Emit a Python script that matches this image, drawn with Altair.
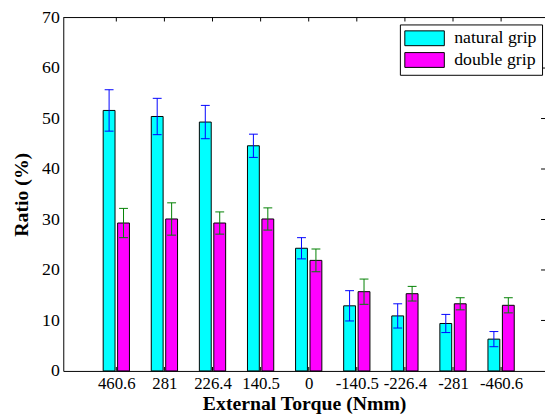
import altair as alt
import pandas as pd

torques = ["460.6", "281", "226.4", "140.5", "0", "-140.5", "-226.4", "-281", "-460.6"]
natural = [51.6, 50.4, 49.3, 44.6, 24.3, 12.9, 10.9, 9.4, 6.3]
natural_err = [4.1, 3.6, 3.3, 2.3, 2.1, 3.0, 2.4, 1.8, 1.5]
double = [29.3, 30.1, 29.3, 30.1, 21.9, 15.7, 15.3, 13.3, 13.0]
double_err = [2.9, 3.2, 2.2, 2.2, 2.25, 2.5, 1.45, 1.2, 1.5]
series = ["natural grip", "double grip"]
bar_colors = ["#00ffff", "#ff00ff"]
err_colors = ["#0000ff", "#008000"]
y_ticks = [0, 10, 20, 30, 40, 50, 60, 70]

rows = []
for i, t in enumerate(torques):
    for s, vals, errs, ec, off in [
        (series[0], natural, natural_err, err_colors[0], -0.15),
        (series[1], double, double_err, err_colors[1], 0.15),
    ]:
        rows.append({"torque": t, "idx": i + 1, "grip": s, "value": vals[i],
                     "lo": vals[i] - errs[i], "hi": vals[i] + errs[i],
                     "ecolor": ec, "off": off})
df = pd.DataFrame(rows)
cats = pd.DataFrame({"idx": list(range(1, len(torques) + 1))})
right_ticks = pd.DataFrame({"v": y_ticks[1:-1]})

W, H = 488, 358
FONT = "Liberation Serif, Times New Roman, Times, serif"
label_expr = "[" + ",".join("'%s'" % t for t in torques) + "][datum.value - 1]"

xscale = alt.Scale(domain=[0, 9.81], nice=False, zero=False)
yscale = alt.Scale(domain=[0, 70], nice=False)

base = alt.Chart(df).transform_calculate(xpos="datum.idx + datum.off")

bars = base.mark_bar(size=12, stroke="black", strokeWidth=1, opacity=1).encode(
    x=alt.X("xpos:Q", scale=xscale,
            axis=alt.Axis(values=list(range(1, len(torques) + 1)), labelExpr=label_expr,
                          title="External Torque (Nmm)", ticks=False, grid=False,
                          labelFontSize=17, labelPadding=5, titlePadding=2, titleFontSize=20)),
    y=alt.Y("value:Q", scale=yscale,
            axis=alt.Axis(values=y_ticks, title="Ratio (%)", ticks=False, grid=False,
                          labelPadding=4, titlePadding=10, titleFontSize=20)),
    color=alt.Color("grip:N", scale=alt.Scale(domain=series, range=bar_colors),
                    legend=alt.Legend(title=None, orient="none", legendX=341, legendY=7,
                                      symbolType="M-2.667,-1H2.667V1H-2.667Z", symbolSize=225,
                                      symbolOffset=11,
                                      symbolStrokeColor="black", symbolStrokeWidth=1,
                                      symbolOpacity=1,
                                      labelFont=FONT, labelFontSize=18, labelColor="black",
                                      labelOffset=21, rowPadding=2, padding=5,
                                      strokeColor="black", fillColor="white")),
)

err_rule = base.mark_rule(strokeWidth=1).encode(
    x=alt.X("xpos:Q", scale=xscale), y=alt.Y("lo:Q", scale=yscale), y2="hi:Q",
    color=alt.Color("ecolor:N", scale=None),
)
cap_hi = base.mark_tick(orient="horizontal", size=9, thickness=1, opacity=1).encode(
    x=alt.X("xpos:Q", scale=xscale), y=alt.Y("hi:Q", scale=yscale),
    color=alt.Color("ecolor:N", scale=None),
)
cap_lo = base.mark_tick(orient="horizontal", size=9, thickness=1, opacity=1).encode(
    x=alt.X("xpos:Q", scale=xscale), y=alt.Y("lo:Q", scale=yscale),
    color=alt.Color("ecolor:N", scale=None),
)

top_border = alt.Chart(pd.DataFrame({"v": [70]})).mark_rule(color="black", strokeWidth=1).encode(
    y=alt.Y("v:Q", scale=yscale)
)
rticks = alt.Chart(right_ticks).mark_rule(color="black", strokeWidth=1).encode(
    y=alt.Y("v:Q", scale=yscale), x=alt.value(W), x2=alt.value(W - 4)
)
tticks = alt.Chart(cats).mark_rule(color="black", strokeWidth=1).encode(
    x=alt.X("idx:Q", scale=xscale), y=alt.value(0), y2=alt.value(4)
)
bticks = alt.Chart(cats).mark_rule(color="black", strokeWidth=1).encode(
    x=alt.X("idx:Q", scale=xscale), y=alt.value(H), y2=alt.value(H - 4)
)

chart = alt.layer(bars, err_rule, cap_hi, cap_lo, top_border, rticks, tticks, bticks).properties(
    width=W, height=H,
    autosize=alt.AutoSizeParams(type="none"),
    padding={"left": 56, "top": 7, "right": 0, "bottom": 45},
    background="white",
).configure_view(stroke=None).configure_axis(
    labelFont=FONT, labelFontSize=18, labelColor="black",
    titleFont=FONT, titleFontWeight="bold", titleColor="black",
    domainColor="black", domainWidth=1,
)

chart.save("out.html", embed_options={"renderer": "svg", "actions": False})
